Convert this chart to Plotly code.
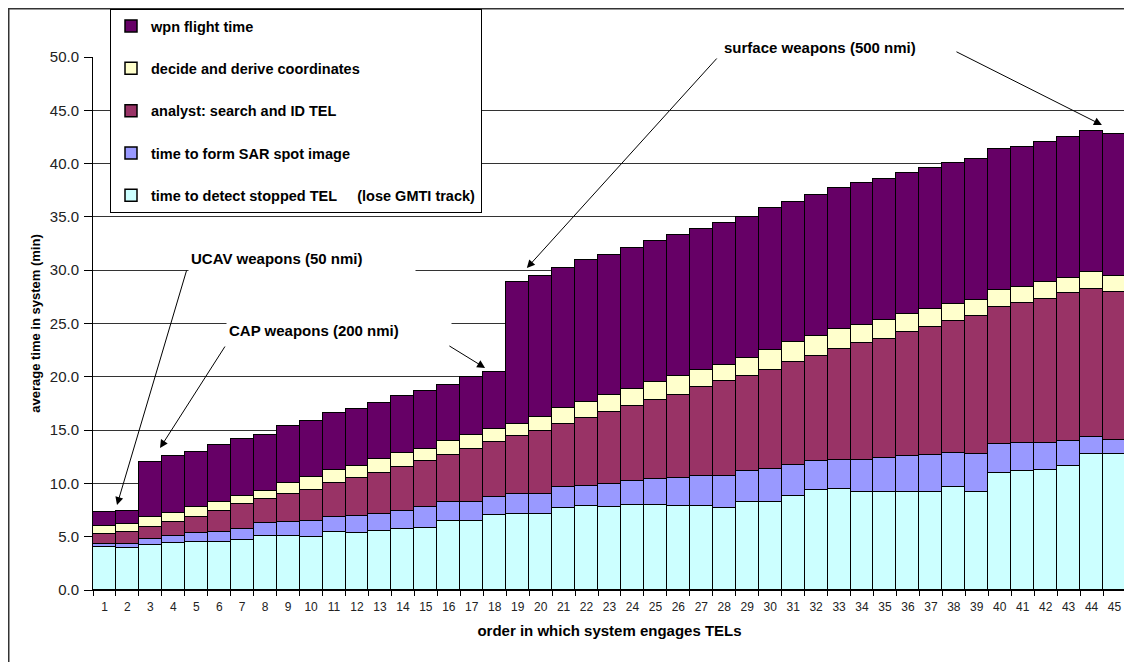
import plotly.graph_objects as go

categories = [str(i) for i in range(1, 46)]

detect = [4.01, 3.92, 4.23, 4.45, 4.54, 4.54, 4.70, 5.08, 5.08, 4.95,
          5.43, 5.33, 5.55, 5.70, 5.86, 6.48, 6.48, 7.05, 7.14, 7.14,
          7.68, 7.89, 7.83, 7.99, 7.99, 7.89, 7.89, 7.68, 8.21, 8.21,
          8.83, 9.40, 9.49, 9.15, 9.15, 9.24, 9.15, 9.65, 9.24, 10.97,
          11.12, 11.28, 11.65, 12.78, 12.78]
sar = [0.31, 0.40, 0.56, 0.63, 0.85, 0.94, 1.00, 1.19, 1.28, 1.53,
       1.46, 1.62, 1.59, 1.75, 1.88, 1.73, 1.82, 1.72, 1.88, 1.88,
       1.94, 1.91, 2.12, 2.28, 2.41, 2.61, 2.76, 2.97, 2.91, 3.13,
       2.92, 2.66, 2.73, 3.07, 3.23, 3.35, 3.54, 3.20, 3.54, 2.72,
       2.66, 2.50, 2.29, 1.57, 1.32]
analyst = [0.91, 1.10, 1.16, 1.34, 1.50, 1.94, 2.35, 2.25, 2.63, 2.92,
           3.16, 3.55, 3.82, 4.08, 4.32, 4.48, 4.92, 5.14, 5.39, 5.92,
           5.95, 6.33, 6.73, 7.02, 7.46, 7.83, 8.37, 8.93, 8.99, 9.34,
           9.65, 9.93, 10.43, 10.91, 11.18, 11.59, 11.96, 12.37, 12.91, 12.88,
           13.10, 13.54, 13.88, 13.85, 13.84]
decide = [0.82, 0.75, 0.88, 0.79, 0.85, 0.82, 0.78, 0.81, 1.04, 1.19,
          1.20, 1.15, 1.32, 1.32, 1.19, 1.25, 1.35, 1.19, 1.19, 1.25,
          1.51, 1.51, 1.57, 1.57, 1.63, 1.72, 1.59, 1.57, 1.66, 1.88,
          1.84, 1.88, 1.85, 1.74, 1.75, 1.67, 1.67, 1.57, 1.47, 1.56,
          1.53, 1.56, 1.47, 1.62, 1.51]
flight = [1.31, 1.28, 5.17, 5.32, 5.20, 5.36, 5.33, 5.24, 5.38, 5.23,
          5.35, 5.36, 5.26, 5.38, 5.39, 5.33, 5.39, 5.36, 13.28, 13.26,
          13.15, 13.28, 13.20, 13.25, 13.25, 13.22, 13.22, 13.31, 13.26, 13.25,
          13.20, 13.16, 13.19, 13.28, 13.22, 13.25, 13.25, 13.25, 13.25, 13.22,
          13.19, 13.19, 13.22, 13.25, 13.31]

series_names = [
    "time to detect stopped TEL\u00a0\u00a0\u00a0\u00a0 (lose GMTI track)",
    "time to form SAR spot image",
    "analyst: search and ID TEL",
    "decide and derive coordinates",
    "wpn flight time",
]
series_values = [detect, sar, analyst, decide, flight]
series_colors = ["#CCFFFF", "#9999FF", "#993366", "#FFFFCC", "#660066"]

FONT = "Liberation Sans, Arial, sans-serif"

# The page body has an 8px margin, so the figure sits at (8, 8) in the window.
OFF = 8
W, H = 1132 - OFF, 662 - OFF
# plot area in window pixels: x 93..1126, y 57..590
L, R, T, B = 93 - OFF, 1126 - OFF, 57 - OFF, 590 - OFF


def px(xw):
    return (xw - OFF - L) / (R - L)


def py(yw):
    return (B - (yw - OFF)) / (B - T)


fig = go.Figure()
n = len(series_names)
for i, (name, vals, col) in enumerate(zip(series_names, series_values, series_colors)):
    fig.add_trace(go.Bar(
        x=categories, y=vals, name="<b>" + name + "</b>",
        legendgroup=name, legendrank=n - i,
        marker=dict(color=col, line=dict(color="#000000", width=1.5)),
    ))

annotations = []
# text boxes (window pixels: left, top, width)
for text, left, top, w in [
    ("UCAV weapons (50 nmi)", 188, 246.5, 222),
    ("CAP weapons (200 nmi)", 226, 318.5, 220),
    ("surface weapons (500 nmi)", 721, 36.5, 252),
]:
    annotations.append(dict(
        text="<b>" + text + "</b>", xref="paper", yref="paper",
        x=px(left), y=py(top), xanchor="left", yanchor="top",
        width=w, height=27, align="left", valign="top",
        bgcolor="#FFFFFF", borderpad=2, showarrow=False,
        font=dict(family=FONT, size=15, color="#000000"),
    ))

# arrows: (head x index, head y, tail x index, tail y) in data coordinates
arrows = [
    (0.545, 7.97, 3.595, 30.11),
    (2.42, 13.32, 5.29, 22.98),
    (16.58, 20.83, 14.96, 22.98),
    (18.4, 30.2, 26.73, 50.0),
    (43.45, 43.62, 37.05, 50.56),
]
for hx, hy, tx, ty in arrows:
    annotations.append(dict(
        text="", x=hx, y=hy, xref="x", yref="y",
        ax=tx, ay=ty, axref="x", ayref="y",
        showarrow=True, arrowhead=2, arrowsize=1.6, arrowwidth=1,
        arrowcolor="#000000", standoff=0,
    ))

shapes = [
    # outer chart border
    dict(type="rect", xref="paper", yref="paper",
         x0=px(8.75), x1=px(1150), y0=py(690), y1=py(8.75),
         line=dict(color="#333333", width=1.5), fillcolor="rgba(0,0,0,0)",
         layer="below"),
    # right plot-area border
    dict(type="line", xref="paper", yref="paper", x0=1, x1=1, y0=0, y1=1,
         line=dict(color="#808080", width=1), layer="below"),
]

fig.update_layout(
    width=W, height=H,
    margin=dict(l=L, r=W - R, t=T, b=H - B, autoexpand=False),
    paper_bgcolor="#FFFFFF", plot_bgcolor="#FFFFFF",
    barmode="stack", bargap=0,
    font=dict(family=FONT, size=12, color="#000000"),
    showlegend=True,
    legend=dict(
        x=px(110), y=py(9), xanchor="left", yanchor="top",
        bgcolor="#FFFFFF", bordercolor="#000000", borderwidth=1,
        traceorder="grouped", tracegroupgap=20.5,
        font=dict(family=FONT, size=14.5, color="#000000"),
    ),
    xaxis=dict(
        type="category", showline=True, linecolor="#000000", linewidth=1,
        ticks="outside", tickson="boundaries", ticklen=5, tickcolor="#000000",
        showgrid=False, tickfont=dict(family=FONT, size=12, color="#222222"),
        ticklabelstandoff=6,
        title=dict(text="<b>order in which system engages TELs</b>",
                   font=dict(family=FONT, size=15, color="#000000"), standoff=12),
    ),
    yaxis=dict(
        range=[0, 50], dtick=5, tickformat=".1f",
        showline=True, linecolor="#000000", linewidth=1,
        ticks="outside", ticklen=8, tickcolor="#000000",
        showgrid=True, gridcolor="#333333", gridwidth=1, zeroline=False,
        tickfont=dict(family=FONT, size=15, color="#222222"),
        ticklabelstandoff=2,
        title=dict(text="<b>average time in system (min)</b>",
                   font=dict(family=FONT, size=13, color="#000000"), standoff=6),
    ),
    annotations=annotations,
    shapes=shapes,
)

fig.write_html("out.html")
